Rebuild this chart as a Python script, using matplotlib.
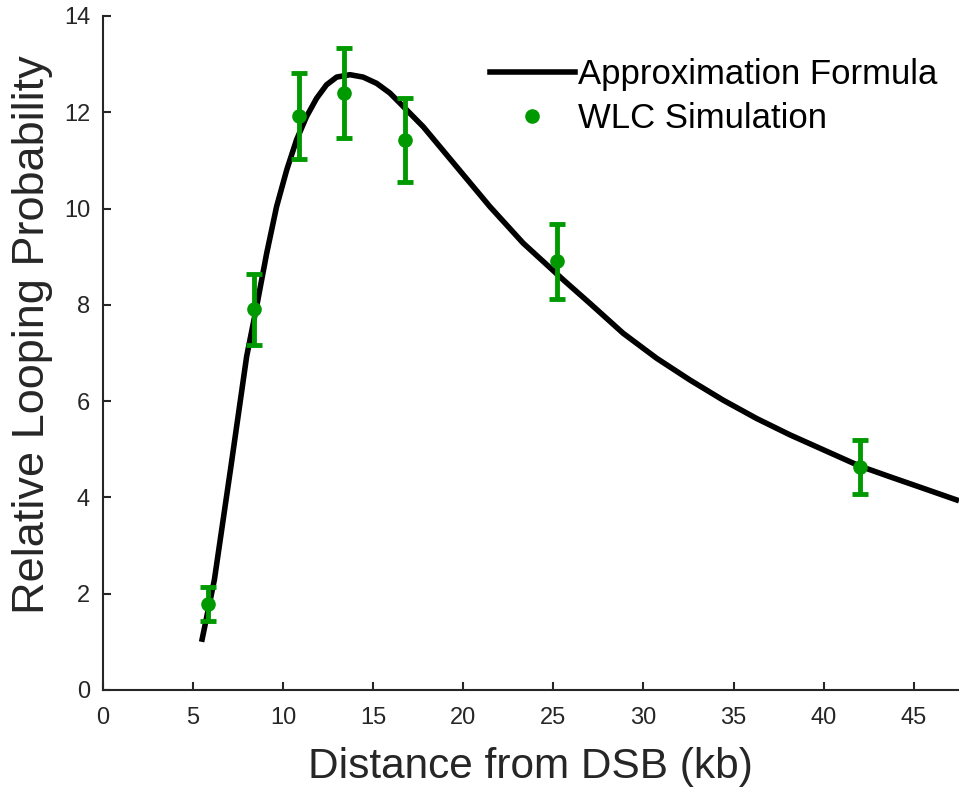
import numpy as np
import matplotlib.pyplot as plt
from matplotlib.lines import Line2D

plt.rcParams['font.family'] = ['Liberation Sans', 'DejaVu Sans']

# approximation formula curve
curve_x = [5.49, 6.2, 7.12, 7.99, 8.54, 9.10, 9.65, 10.21, 10.76, 11.31, 11.87, 12.42,
           12.98, 13.72, 14.45, 15.20, 15.93, 16.49, 17.78, 19.63, 21.48, 23.33, 25.55,
           27.03, 28.87, 30.73, 32.57, 34.42, 36.27, 38.12, 39.97, 42.0, 43.66, 45.51,
           47.5]
curve_y = [1.0, 2.29, 4.65, 6.93, 7.96, 9.07, 10.04, 10.80, 11.43, 11.91, 12.29, 12.57,
           12.73, 12.78, 12.73, 12.60, 12.40, 12.19, 11.70, 10.87, 10.04, 9.28, 8.52,
           8.03, 7.41, 6.89, 6.44, 6.02, 5.64, 5.30, 4.99, 4.65, 4.43, 4.19,
           3.93]

# WLC simulation points
sim_x = [5.84, 8.39, 10.89, 13.38, 16.77, 25.18, 42.0]
sim_y = [1.79, 7.91, 11.92, 12.40, 11.42, 8.90, 4.64]
sim_err = [0.35, 0.74, 0.89, 0.93, 0.87, 0.77, 0.56]

green = '#009900'
dark = '#262626'

fig = plt.figure(figsize=(9.59, 7.9), dpi=100)
ax = fig.add_axes([0.107, 0.1266, 0.893, 0.8532])

ax.plot(curve_x, curve_y, color='black', lw=4, solid_capstyle='butt',
        solid_joinstyle='round')
ax.errorbar(sim_x, sim_y, yerr=sim_err, fmt='o', color=green, ms=9.5, elinewidth=3.5,
            capsize=6, capthick=3.5)

ax.set_xlim(0, 47.5)
ax.set_ylim(0, 14)
ax.set_xticks(np.arange(0, 50, 5))
ax.set_yticks(np.arange(0, 16, 2))
for s in ['top', 'right']:
    ax.spines[s].set_visible(False)
for s in ['left', 'bottom']:
    ax.spines[s].set_color(dark)
    ax.spines[s].set_linewidth(1.5)
ax.tick_params(direction='in', length=6, width=1.5, colors=dark, labelsize=17)
ax.tick_params(axis='x', pad=12)
ax.tick_params(axis='y', pad=9)

ax.set_xlabel('Distance from DSB (kb)', fontsize=30.5, color=dark, labelpad=13)
ax.set_ylabel('Relative Looping Probability', fontsize=32.5, color=dark)
ax.yaxis.set_label_coords(-0.058, 0.527)

handles = [Line2D([], [], color='black', lw=4),
           Line2D([], [], color=green, marker='o', ms=9.5, ls='none')]
labels = ['Approximation Formula', 'WLC Simulation']
leg = ax.legend(handles, labels, loc='upper left', bbox_to_anchor=(0.452, 0.937),
                frameon=False, fontsize=25, handlelength=2.45, handletextpad=0.1,
                labelspacing=0.3, borderpad=0, borderaxespad=0)

fig.savefig('out.png', dpi=100)
